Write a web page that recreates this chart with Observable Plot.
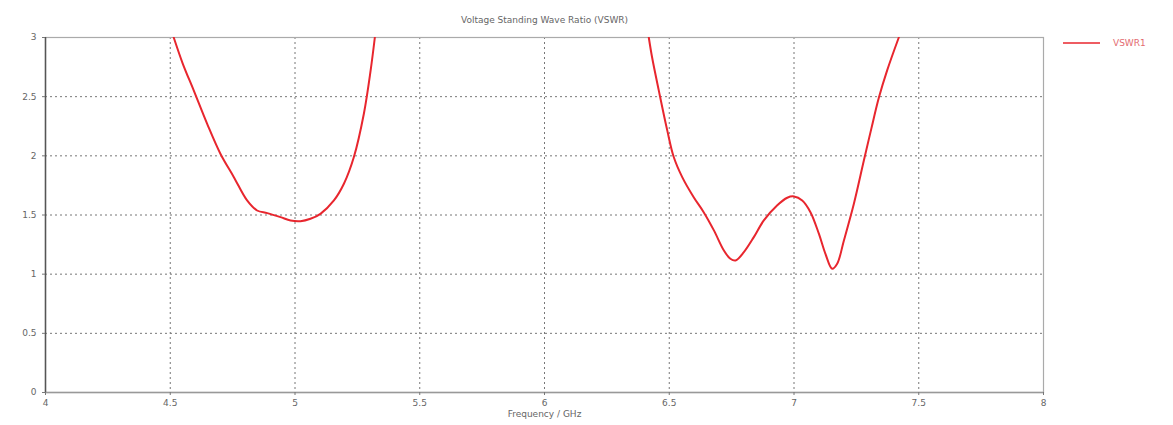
<!DOCTYPE html>
<html>
<head>
<meta charset="utf-8">
<script src="https://cdn.jsdelivr.net/npm/d3@7"></script>
<script src="https://cdn.jsdelivr.net/npm/@observablehq/plot@0.6"></script>
<style>
  html, body { margin: 0; padding: 0; background: #fff; }
  #chart { width: 1173px; height: 425px; }
</style>
</head>
<body>
<div id="chart"></div>
<script>
const title = "Voltage Standing Wave Ratio (VSWR)";
const xLabel = "Frequency / GHz";
const seriesName = "VSWR1";
const xTicks = [4, 4.5, 5, 5.5, 6, 6.5, 7, 7.5, 8];
const yTicks = [0, 0.5, 1, 1.5, 2, 2.5, 3];

// Band 1 (lower band)
const freq1 = [4.514, 4.55, 4.594, 4.648, 4.701, 4.755, 4.808, 4.848, 4.889, 4.942, 4.982, 5.022, 5.062, 5.102, 5.156, 5.196, 5.236, 5.276, 5.303, 5.32];
const vswr1 = [3.0, 2.78, 2.553, 2.27, 2.018, 1.82, 1.623, 1.538, 1.516, 1.482, 1.454, 1.448, 1.468, 1.51, 1.623, 1.764, 1.99, 2.356, 2.72, 3.0];

// Band 2 (upper band)
const freq2 = [6.418, 6.431, 6.458, 6.492, 6.518, 6.552, 6.598, 6.638, 6.679, 6.719, 6.745, 6.766, 6.799, 6.839, 6.879, 6.932, 6.973, 7.0, 7.033, 7.066, 7.10, 7.126, 7.153, 7.173, 7.2, 7.24, 7.28, 7.31, 7.34, 7.373, 7.42];
const vswr2 = [3.0, 2.835, 2.553, 2.215, 1.99, 1.82, 1.65, 1.524, 1.37, 1.20, 1.13, 1.116, 1.186, 1.313, 1.454, 1.58, 1.646, 1.657, 1.623, 1.524, 1.34, 1.172, 1.046, 1.088, 1.285, 1.595, 1.96, 2.23, 2.49, 2.72, 3.0];

const data = [
  ...freq1.map((f, i) => ({f, v: vswr1[i], seg: "a"})),
  ...freq2.map((f, i) => ({f, v: vswr2[i], seg: "b"}))
];

const red = "#e8262e";
const textColor = "#666";
const fmt = d => String(d);

const plot = Plot.plot({
  width: 1173,
  height: 425,
  marginTop: 37,
  marginLeft: 45,
  marginRight: 130,
  marginBottom: 33,
  style: {fontFamily: "DejaVu Sans, sans-serif", fontSize: "9px", color: textColor, background: "#fff"},
  x: {domain: [4, 8]},
  y: {domain: [0, 3]},
  marks: [
    Plot.gridX(xTicks.slice(1, -1), {stroke: "#777", strokeOpacity: 1, strokeDasharray: "2,3"}),
    Plot.gridY(yTicks.slice(1, -1), {stroke: "#777", strokeOpacity: 1, strokeDasharray: "2,3"}),
    Plot.frame({stroke: "#aaa", strokeWidth: 1.2}),
    Plot.ruleY([0], {stroke: "#999", strokeWidth: 1.5}),
    Plot.ruleX([4], {stroke: "#555", strokeWidth: 1.5}),
    Plot.axisX(xTicks, {tickSize: 3, tickPadding: 4, tickFormat: fmt, label: null, stroke: "#777", fill: textColor}),
    Plot.axisY(yTicks, {tickSize: 3, tickPadding: 6, tickFormat: fmt, label: null, stroke: "#777", fill: textColor}),
    Plot.line(data, {x: "f", y: "v", z: "seg", stroke: red, strokeWidth: 2, curve: "catmull-rom", clip: true}),
    Plot.text([title], {frameAnchor: "top", dy: -21, fill: textColor, fontSize: 9}),
    Plot.text([xLabel], {frameAnchor: "bottom", dy: 24, fill: textColor, fontSize: 9})
  ]
});

// Legend
const svg = d3.select(plot);
svg.append("line")
  .attr("x1", 1063).attr("x2", 1100)
  .attr("y1", 43).attr("y2", 43)
  .attr("stroke", red).attr("stroke-width", 1.5);
svg.append("text")
  .attr("x", 1113).attr("y", 46)
  .attr("text-anchor", "start")
  .attr("fill", "#e36b70")
  .attr("font-size", 9)
  .attr("font-family", "DejaVu Sans, sans-serif")
  .text(seriesName);

document.getElementById("chart").appendChild(plot);
</script>
</body>
</html>
